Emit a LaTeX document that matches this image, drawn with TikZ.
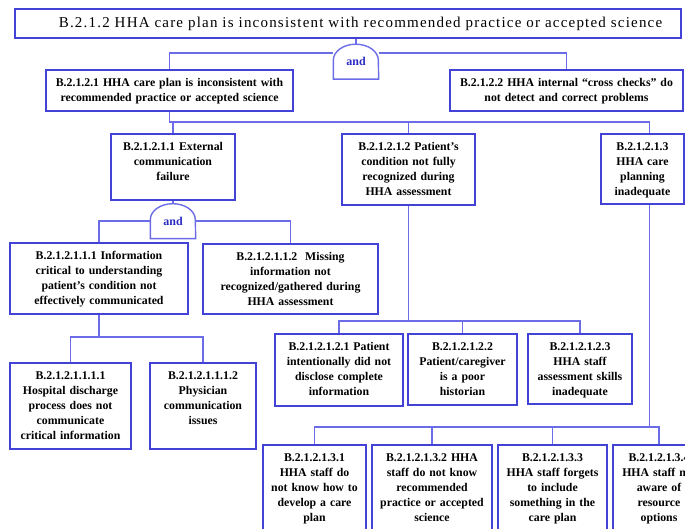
\documentclass[tikz,border=0pt]{standalone}
\usepackage{fontspec}
\setmainfont{Liberation Serif}
\newfontfamily\titlefont[LetterSpace=8]{Liberation Serif}
\usepackage{xcolor}
\usepackage{tikz}

\definecolor{boxblue}{RGB}{66,66,214}
\definecolor{lineblue}{RGB}{108,108,232}
\definecolor{andblue}{RGB}{44,44,196}

\tikzset{
  box/.style 2 args={draw=boxblue, line width=2bp, align=center, anchor=north,
    font=\bfseries\fontsize{11.8bp}{15bp}\selectfont,
    inner xsep=2bp, inner ysep=4bp, text height=12.5bp,
    text width=#1bp-4bp, text depth=#2bp-20.5bp},
  andgate/.style={minimum width=45bp, minimum height=35bp, inner sep=0pt,
    text=andblue, font=\bfseries\fontsize{12bp}{14bp}\selectfont},
  gateline/.style={draw=lineblue, line width=1.4bp},
  conn/.style={draw=lineblue, line width=1.1bp}
}

\begin{document}
\begin{tikzpicture}[x=1bp, y=1bp]
  \useasboundingbox (0,0) rectangle (685,-529);
  \clip (0,0) rectangle (685,-529);

  \node[draw=boxblue, line width=2bp, minimum width=666bp, minimum height=29bp, inner sep=0pt,
    font=\titlefont\fontsize{15bp}{18bp}\selectfont] (title) at (348,-23.5)
    {\hspace*{25bp}B.2.1.2 HHA care plan is inconsistent with recommended practice or accepted science};
  \node[andgate] (g1) at (356,-61.5) {and};

  \node[box={247}{41}] (n21) at (169.5,-69) {B.2.1.2.1 HHA care plan is inconsistent with\\recommended practice or accepted science};
  \node[box={233}{41}] (n22) at (566.5,-69) {B.2.1.2.2 HHA internal “cross checks” do\\not detect and correct problems};

  \node[box={124}{66}] (n211) at (173,-133) {B.2.1.2.1.1 External\\communication\\failure};
  \node[box={133}{71}] (n212) at (408.5,-133) {B.2.1.2.1.2 Patient’s\\condition not fully\\recognized during\\HHA assessment};
  \node[box={83}{70}] (n213) at (642.5,-133) {B.2.1.2.1.3\\HHA care\\planning\\inadequate};
  \node[andgate] (g2) at (173,-221) {and};

  \node[box={178}{71}] (n2111) at (99,-242) {B.2.1.2.1.1.1 Information\\critical to understanding\\patient’s condition not\\effectively communicated};
  \node[box={175}{70}] (n2112) at (290.5,-243) {B.2.1.2.1.1.2~ Missing\\information not\\recognized/gathered during\\HHA assessment};

  \node[box={121}{86}] (n21111) at (70.5,-362) {B.2.1.2.1.1.1.1\\Hospital discharge\\process does not\\communicate\\critical information};
  \node[box={106}{86}] (n21112) at (203,-362) {B.2.1.2.1.1.1.2\\Physician\\communication\\issues};

  \node[box={128}{72}] (n2121) at (339,-333) {B.2.1.2.1.2.1 Patient\\intentionally did not\\disclose complete\\information};
  \node[box={109}{71}] (n2122) at (462.5,-333) {B.2.1.2.1.2.2\\Patient/caregiver\\is a poor\\historian};
  \node[box={104}{70}] (n2123) at (580,-333) {B.2.1.2.1.2.3\\HHA staff\\assessment skills\\inadequate};

  \node[box={103}{96}] (n2131) at (314.5,-444) {B.2.1.2.1.3.1\\HHA staff do\\not know how to\\develop a care\\plan};
  \node[box={120}{96}] (n2132) at (432,-444) {B.2.1.2.1.3.2 HHA\\staff do not know\\recommended\\practice or accepted\\science};
  \node[box={109}{96}] (n2133) at (552.5,-444) {B.2.1.2.1.3.3\\HHA staff forgets\\to include\\something in the\\care plan};
  \node[box={92}{96}] (n2134) at (659,-444) {B.2.1.2.1.3.4\\HHA staff not\\aware of\\resource\\options};

  % and gates
  \foreach \g in {g1,g2}
    \draw[gateline] (\g.south west) -- ++(0,19bp)
      arc[start angle=180, end angle=0, x radius=22.5bp, y radius=16bp] -- (\g.south east) -- cycle;

  % top event to its two causes
  \draw[conn] (title.south -| g1.north) -- (g1.north);
  \draw[conn] ([yshift=8.5bp]g1.west) -| (n21.north);
  \draw[conn] ([yshift=8.5bp]g1.east) -| (n22.north);

  % B.2.1.2.1 branches
  \coordinate (bus1) at (0,-122);
  \draw[conn] (n21.south) -- (n21.south |- bus1) -| (n211.north);
  \draw[conn] (n21.south |- bus1) -| (n212.north);
  \draw[conn] (n21.south |- bus1) -| ([xshift=7bp]n213.north);

  % external communication failure
  \draw[conn] (n211.south) -- (g2.north);
  \draw[conn] (g2.west) -| (n2111.north);
  \draw[conn] (g2.east) -| (n2112.north);

  \coordinate (bus2) at (0,-337);
  \draw[conn] (n2111.south) -- (n2111.south |- bus2) -| (n21111.north);
  \draw[conn] (n2111.south |- bus2) -| (n21112.north);

  % patient's condition
  \coordinate (bus3) at (0,-321);
  \draw[conn] (n212.south) -- (n212.south |- bus3) -| (n2121.north);
  \draw[conn] (n212.south |- bus3) -| (n2122.north);
  \draw[conn] (n212.south |- bus3) -| (n2123.north);

  % care planning
  \coordinate (bus4) at (0,-427);
  \draw[conn] ([xshift=7bp]n213.south) -- ([xshift=7bp]n213.south |- bus4);
  \draw[conn] (n2131.north) -- (n2131.north |- bus4) -- (n2134.north |- bus4) -- (n2134.north);
  \foreach \n in {n2132,n2133}
    \draw[conn] (\n.north) -- (\n.north |- bus4);
\end{tikzpicture}
\end{document}
